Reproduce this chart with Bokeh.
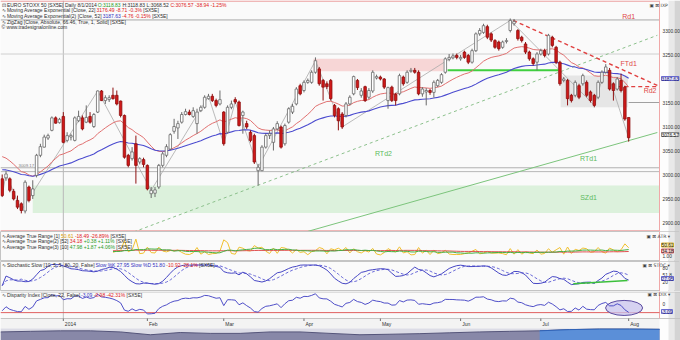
import numpy as np
from bokeh.plotting import figure
from bokeh.layouts import column
from bokeh.models import Range1d, Span, Label, BoxAnnotation, ColumnDataSource
from bokeh.embed import file_html
from bokeh.resources import INLINE
from bokeh.core.properties import value

# ---------------- data ----------------
opens = [2991, 2993, 2991, 2965, 2946, 2939, 2924, 2974, 2956, 2998,
         3040, 3057, 3076, 3092, 3118, 3108, 3121, 3071, 3078, 3071,
         3112, 3118, 3109, 3121, 3100, 3130, 3174, 3154, 3156, 3165,
         3165, 3153, 3123, 3040, 3033, 3064, 3026, 3031, 3019, 2960,
         2961, 2974, 3019, 3040, 3053, 3090, 3097, 3109, 3125, 3130,
         3121, 3106, 3133, 3140, 3158, 3163, 3154, 3147, 3130, 3088,
         3140, 3156, 3151, 3123, 3106, 3088, 3081, 3008, 3008, 3057,
         3081, 3067, 3095, 3099, 3064, 3109, 3130, 3147, 3185, 3175,
         3192, 3192, 3213, 3220, 3196, 3189, 3196, 3144, 3137, 3126,
         3123, 3147, 3168, 3196, 3165, 3183, 3161, 3174, 3201, 3203,
         3199, 3154, 3182, 3167, 3168, 3203, 3192, 3215, 3217, 3213,
         3168, 3172, 3175, 3171, 3185, 3192, 3213, 3240, 3243, 3248,
         3241, 3255, 3248, 3234, 3258, 3293, 3296, 3308, 3293, 3279,
         3276, 3265, 3277, 3300, 3314, 3300, 3286, 3272, 3255, 3241,
         3234, 3251, 3258, 3251, 3286, 3265, 3234, 3196, 3196, 3165,
         3165, 3185, 3189, 3192, 3172, 3165, 3161, 3192, 3213, 3217,
         3189, 3178, 3196, 3182, 3118.8]
highs = [3000, 3007, 2994, 2970, 2956, 2942, 2988, 2977, 2988, 3043,
         3064, 3083, 3085, 3121, 3121, 3118, 3130, 3088, 3085, 3121,
         3133, 3123, 3144, 3130, 3128, 3175, 3176, 3165, 3165, 3181,
         3175, 3154, 3125, 3043, 3057, 3081, 3036, 3035, 3021, 2974,
         2974, 3022, 3047, 3063, 3086, 3116, 3112, 3130, 3137, 3135,
         3140, 3137, 3144, 3165, 3168, 3168, 3158, 3175, 3132, 3144,
         3154, 3161, 3154, 3133, 3112, 3092, 3085, 3022, 3061, 3085,
         3092, 3099, 3111, 3102, 3106, 3140, 3147, 3182, 3189, 3196,
         3200, 3217, 3244, 3224, 3199, 3194, 3199, 3147, 3140, 3130,
         3151, 3165, 3206, 3199, 3180, 3185, 3180, 3217, 3208, 3206,
         3201, 3183, 3185, 3170, 3210, 3206, 3217, 3222, 3222, 3217,
         3182, 3180, 3178, 3196, 3199, 3211, 3244, 3251, 3252, 3252,
         3249, 3258, 3251, 3262, 3296, 3305, 3314, 3312, 3296, 3282,
         3279, 3279, 3284, 3325, 3324, 3303, 3289, 3276, 3258, 3244,
         3255, 3262, 3262, 3293, 3289, 3268, 3237, 3203, 3199, 3168,
         3196, 3189, 3210, 3196, 3175, 3168, 3196, 3217, 3230, 3222,
         3192, 3203, 3210, 3185, 3118.8]
lows = [2953, 2987, 2963, 2946, 2928, 2919, 2919, 2942, 2949, 2994,
        3036, 3056, 3072, 3090, 3106, 3106, 3065, 3067, 3071, 3069,
        3109, 3092, 3107, 3106, 3097, 3128, 3153, 3147, 3151, 3156,
        3144, 3119, 3033, 3015, 3029, 2981, 3021, 3015, 2967, 2951,
        2953, 2970, 3015, 3036, 3051, 3085, 3074, 3106, 3123, 3123,
        3118, 3085, 3130, 3137, 3156, 3151, 3140, 3144, 3060, 3085,
        3136, 3147, 3100, 3085, 3095, 3067, 3022, 2977, 3007, 3054,
        3074, 3050, 3092, 3054, 3060, 3106, 3126, 3144, 3165, 3171,
        3189, 3189, 3210, 3185, 3154, 3178, 3154, 3119, 3092, 3095,
        3119, 3144, 3165, 3176, 3160, 3151, 3157, 3170, 3198, 3196,
        3178, 3137, 3151, 3144, 3165, 3185, 3189, 3212, 3210, 3165,
        3162, 3144, 3166, 3160, 3182, 3189, 3210, 3236, 3240, 3240,
        3237, 3241, 3230, 3231, 3255, 3289, 3293, 3282, 3276, 3262,
        3258, 3262, 3273, 3296, 3310, 3279, 3275, 3251, 3237, 3227,
        3217, 3248, 3244, 3248, 3265, 3230, 3185, 3192, 3144, 3150,
        3161, 3157, 3185, 3161, 3150, 3140, 3157, 3189, 3210, 3175,
        3154, 3175, 3171, 3112, 3068.5]
closes = [2956, 3001, 2967, 2949, 2932, 2925, 2984, 2946, 2970, 3040,
          3058, 3078, 3081, 3118, 3107, 3115, 3067, 3081, 3081, 3118,
          3121, 3095, 3119, 3109, 3125, 3174, 3154, 3160, 3160, 3158,
          3147, 3123, 3036, 3019, 3047, 3019, 3033, 3021, 2970, 2967,
          2968, 3019, 3043, 3058, 3083, 3100, 3106, 3125, 3131, 3125,
          3133, 3130, 3140, 3161, 3163, 3154, 3144, 3156, 3064, 3140,
          3147, 3151, 3102, 3130, 3099, 3071, 3026, 3015, 3057, 3081,
          3085, 3095, 3106, 3057, 3102, 3137, 3142, 3178, 3168, 3192,
          3196, 3213, 3237, 3189, 3182, 3183, 3158, 3123, 3112, 3099,
          3147, 3161, 3204, 3181, 3174, 3154, 3175, 3213, 3204, 3199,
          3182, 3181, 3154, 3154, 3206, 3189, 3213, 3217, 3213, 3168,
          3178, 3175, 3171, 3192, 3196, 3208, 3241, 3244, 3247, 3244,
          3244, 3244, 3234, 3258, 3293, 3300, 3310, 3286, 3280, 3265,
          3262, 3276, 3279, 3321, 3319, 3283, 3279, 3255, 3241, 3231,
          3251, 3258, 3248, 3290, 3269, 3234, 3189, 3199, 3158, 3154,
          3192, 3161, 3206, 3165, 3154, 3144, 3192, 3213, 3224, 3178,
          3175, 3199, 3175, 3115.5, 3076.6]

month_index = [16, 38, 58, 79, 99, 120, 141, 164]
month_labels = ["2014", "Feb", "Mar", "Apr", "May", "Jun", "Jul", "Aug"]
price_ticks = [2900, 2950, 3000, 3050, 3100, 3150, 3250, 3300]
ema_fast_len, ema_fast_start = 22, 3045.0
ema_slow_len, ema_slow_start = 52, 3012.0
zigzag_threshold = 66.46
overview_level = [10, 10.7, 11.3, 11.3, 10, 6.7, 9.3, 8.3, 8.3, 10, 10, 8.3,
                  6.7, 7.3, 8, 9, 10, 10.7, 11.3, 12.7, 13.3, 13.3, 13]

# ---------------- indicators ----------------
o = np.array(opens, float); h = np.array(highs, float)
l = np.array(lows, float); c = np.array(closes, float)
N = len(c); idx = np.arange(N)

def ema(vals, n, start):
    a = 2.0 / (n + 1); e = start; out = np.empty(len(vals))
    for i, v in enumerate(vals):
        e += a * (v - e); out[i] = e
    return out

def sma(vals, n):
    vals = np.asarray(vals, float)
    return np.array([vals[max(0, i - n + 1):i + 1].mean() for i in range(len(vals))])

def sma_seeded(vals, n, start):
    out = np.empty(len(vals))
    for i in range(len(vals)):
        w = vals[max(0, i - n + 1):i + 1]
        out[i] = (w.sum() + (n - len(w)) * start) / n
    return out

ema22 = ema(c, ema_fast_len, ema_fast_start)
ema52 = ema(c, ema_slow_len, ema_slow_start)
prev_c = np.concatenate([[o[0]], c[:-1]])
tr = np.maximum(h - l, np.maximum(np.abs(h - prev_c), np.abs(l - prev_c)))
atr10 = sma(tr, 10); atr52 = sma(tr, 52)
fastk = []
for i in range(N):
    lo = l[max(0, i - 9):i + 1].min(); hi = h[max(0, i - 9):i + 1].max()
    fastk.append((c[i] - lo) / (hi - lo) * 100)
slowk = sma(fastk, 5); slowd = sma(slowk, 5)
ma22 = sma_seeded(c, 22, ema_fast_start)
disp = (c - ma22) / ma22 * 100

def zigzag(vals, th):
    piv = []; trend = 0; hi = lo = 0; ext = 0
    for i in range(1, len(vals)):
        v = vals[i]
        if trend == 0:
            if v > vals[hi]: hi = i
            if v < vals[lo]: lo = i
            if vals[hi] - vals[lo] >= th:
                if hi > lo: piv.append(lo); trend = 1; ext = hi
                else: piv.append(hi); trend = -1; ext = lo
        elif trend == 1:
            if v >= vals[ext]: ext = i
            elif vals[ext] - v >= th: piv.append(ext); trend = -1; ext = i
        else:
            if v <= vals[ext]: ext = i
            elif v - vals[ext] >= th: piv.append(ext); trend = 1; ext = i
    piv.append(ext)
    if piv[0] != 0: piv.insert(0, 0)
    if piv[-1] != len(vals) - 1: piv.append(len(vals) - 1)
    return piv

zz = zigzag(c, zigzag_threshold)

# ---------------- geometry ----------------
PAGE_W = 680
PX = 3.82                  # pixels per bar
FW = PAGE_W - 21           # width of the chart area (axis column to its right)
X0 = -1.7 / PX
X1 = X0 + FW / PX          # chart / axis-column boundary
XE = X0 + PAGE_W / PX      # right edge of the page
xr = Range1d(X0, XE)

def mx(px):
    return X0 + px / PX

def rx(px_from_right):
    return XE - px_from_right / PX

FONT = "Liberation Sans"
DARK = "#303030"; GREEN = "#1f9a1f"; RED = "#e02020"; BLUE = "#3030c0"; ORANGE = "#d89a00"

def ubox(fig, **kw):
    fig.add_layout(BoxAnnotation(level="underlay", line_color=None, **kw))

def base_fig(hgt, yr, outline="#c4c4c4"):
    p = figure(width=PAGE_W, height=hgt, x_range=xr, y_range=yr, toolbar_location=None,
               output_backend="svg", x_axis_location=None, y_axis_location=None,
               min_border_left=0, min_border_right=0, min_border_top=0, min_border_bottom=0,
               background_fill_color="#fafafa", border_fill_color="#f1f1f1",
               outline_line_color=outline, title=None)
    p.xgrid.visible = False
    p.ygrid.visible = False
    ubox(p, left=X1, right=rx(12), fill_color="#fdfdfd", fill_alpha=1)
    ubox(p, left=rx(12), right=rx(6), fill_color="#e9e9e9", fill_alpha=1)
    ubox(p, left=rx(6), right=XE, fill_color="#d4d4d4", fill_alpha=1)
    return p

def axis_labels(fig, ticks, texts):
    fig.text(x=[X1 + 3 / PX] * len(ticks), y=ticks, text=texts, text_font=value(FONT),
             text_font_size=value("4.8px"), text_color="#333333", text_align="left",
             text_baseline="middle")

_W = {}
for ch in "0123456789": _W[ch] = 0.556
for ch in " .,:;[]/ftI": _W[ch] = 0.278
for ch in "ijl": _W[ch] = 0.222
for ch in "()-r": _W[ch] = 0.333
for ch in "ckvxyzsJ": _W[ch] = 0.5
for ch in "abdeghnopqu": _W[ch] = 0.556
_W.update({"m": 0.833, "w": 0.722, "%": 0.889, "+": 0.584, "M": 0.833, "W": 0.944,
           "C": 0.722, "D": 0.722, "H": 0.722, "N": 0.722, "R": 0.722, "U": 0.722,
           "O": 0.778, "G": 0.778, "Q": 0.778, "T": 0.611, "F": 0.611, "Z": 0.611, "L": 0.556})

def tw(s, size):
    return sum(_W.get(ch, 0.667) for ch in s) * size

def row(fig, segs, px0, ydata, size=5.0):
    x = px0
    for s, col in segs:
        fig.add_layout(Label(x=mx(x), y=ydata, text=s, text_color=col, text_font=FONT,
                             text_font_size=f"{size}px", text_baseline="middle", text_align="left"))
        x += tw(s, size)

def side_box(fig, ydata, text, fill, border, tcol="#202020"):
    fig.add_layout(Label(x=X1 + 2 / PX, y=ydata, text=text, text_font=FONT,
                         text_font_size="4.8px", text_baseline="middle", text_color=tcol,
                         background_fill_color=fill, border_line_color=border,
                         border_line_width=0.8))

def side_name(fig, ydata, text, back=13):
    fig.add_layout(Label(x=X1 - back / PX, y=ydata, text=text, text_font="DejaVu Sans",
                         text_font_size="4.6px", text_baseline="middle", text_color="#404040"))

def edge_line(fig):
    fig.line([X1, X1], [fig.y_range.start, fig.y_range.end], line_color="#f0a8a8", line_width=1)

# ---------------- main price panel ----------------
MAIN_H = 231; MAIN_TOP = 3362.5; MSC = 0.48
MAIN_BOT = MAIN_TOP - MAIN_H / MSC
def my(py):
    return MAIN_TOP - py / MSC

main = base_fig(MAIN_H, Range1d(MAIN_BOT, MAIN_TOP), outline=None)
axis_labels(main, price_ticks, [f"{t:.2f}" for t in price_ticks])

ubox(main, left=8, right=X1, bottom=2920, top=2977, fill_color="#d6efd6", fill_alpha=0.85)
ubox(main, left=81.5, right=115.5, bottom=3215, top=3241, fill_color="#f6c9c9", fill_alpha=0.75)
ubox(main, left=146.2, right=163.8, bottom=3140, top=3206, fill_color="#cfcfcf", fill_alpha=0.45)
for lvl, col in [(3322, "#a8a8a8"), (3251, "#cfcfcf"), (3014, "#b0b0b0"), (3006, "#b8b8b8")]:
    main.line([X0, X1], [lvl, lvl], line_color=col, line_width=1)
main.add_layout(Span(location=16, dimension="height", line_color="#b8b8b8", line_width=1,
                     level="underlay"))
main.line([164, X1], [3150, 3150], line_color="#a0a0a0", line_width=1)
main.line([X0, X1], [my(0.6), my(0.6)], line_color="#e88a8a", line_width=1)
main.line([X0, X1], [my(230.4), my(230.4)], line_color="#e88a8a", line_width=1)
edge_line(main)

main.line([33, 171.5], [2876, 3290], line_color="#8cc08c", line_width=1, line_dash="3 3")
main.line([78.9, 171.5], [2879, 3087.5], line_color="#7cc47c", line_width=1)
main.line([116.6, 145.6], [3217, 3217], line_color="#3fcf3f", line_width=2)
main.line([133.8, 171.5], [3321, 3185.6], line_color="#e04040", line_width=1.4, line_dash="4 3")
main.line([161, 171.5], [3183, 3183], line_color="#e04040", line_width=1.4, line_dash="4 3")

main.line(zz, c[zz], line_color="#a9a9a9", line_width=0.8)
main.line(idx, ema22, line_color="#e07070", line_width=1)
main.line(idx, ema52, line_color="#4b4bcf", line_width=1.1)

inc = c >= o
src = ColumnDataSource(dict(x=idx, h=h, l=l, top=np.maximum(o, c), bot=np.minimum(o, c),
                            fill=np.where(inc, "#ffffff", "#d01818"),
                            line=np.where(inc, "#6a6a6a", "#8e1010")))
main.segment(x0="x", y0="h", x1="x", y1="l", source=src, line_color="line", line_width=1)
main.vbar(x="x", width=0.66, top="top", bottom="bot", source=src,
          fill_color="fill", line_color="line", line_width=0.8)

for txt, xi, yv, col in [("Rd1", 164, 3329, "#e04848"), ("FTd1", 164, 3231, "#e04848"),
                         ("Rd2", 169.6, 3175, "#e04848"), ("RTd1", 153.5, 3033, "#5cba5c"),
                         ("SZd1", 153.5, 2952, "#5cba5c"), ("RTd2", 99.8, 3044, "#5cba5c")]:
    main.add_layout(Label(x=xi, y=yv, text=txt, text_color=col, text_font=FONT,
                          text_font_size="7px", text_align="center", text_baseline="middle"))
main.add_layout(Label(x=mx(18), y=my(165), text="3009.17", text_color="#808080",
                      text_font=FONT, text_font_size="4.3px", text_baseline="middle"))

row(main, [("\u22a1 EURO STOXX 50 [SX5E] Daily 8/1/2014 ", DARK), ("O:3118.83 ", GREEN),
           ("H:3118.83 L:3068.52 ", DARK), ("C:3076.57 -38.94 -1.25%", RED)], 1, my(4))
row(main, [("\u223f Moving Average Exponential [Close, 22] ", DARK),
           ("3176.49 -8.71 -0.3% ", RED), ("[SX5E]", DARK)], 1, my(9.7))
row(main, [("\u223f Moving Average Exponential(2) [Close, 52] ", DARK), ("3187.63 ", BLUE),
           ("-4.76 -0.15% ", RED), ("[SX5E]", DARK)], 1, my(15.4))
row(main, [("\u223f ZigZag [Close, Absolute, 66.46, True, 1, Solid] [SX5E]", DARK)], 1, my(21.1))
row(main, [("\u00a9 www.tradesignalonline.com", DARK)], 1, my(26.8))

side_box(main, my(78), "3187.63", "#dcdcf8", "#4a4ac8", "#202070")
side_box(main, my(134), "3076.57", "#f4f4f4", "#707070")
side_name(main, my(4.5), "\u25a3 \u22a0 IXP", 10)

# ---------------- ATR panel ----------------
ATR_H = 30; ATR_TOP = 143.6; ASC = 0.175
def ay(rel):
    return ATR_TOP - rel / ASC
atr = base_fig(ATR_H, Range1d(ATR_TOP - ATR_H / ASC, ATR_TOP))
axis_labels(atr, [1], ["1.00"])
atr.add_layout(Span(location=16, dimension="height", line_color="#c0c0c0", line_width=1,
                    level="underlay"))
edge_line(atr)
s0 = 29
atr.line(idx[s0:], tr[s0:], line_color="#f0c030", line_width=1)
atr.line(idx[s0:], atr52[s0:], line_color="#e05050", line_width=1)
atr.line(idx[s0:], atr10[s0:], line_color="#45b045", line_width=1)
row(atr, [("\u223f Average True Range [1] ", DARK), ("50.61 ", ORANGE),
          ("-18.49 -26.89% ", RED), ("[SX5E]", DARK)], 1, ay(4))
row(atr, [("\u223f Average True Range(2) [52] ", DARK), ("34.18 ", RED),
          ("+0.38 +1.11% ", GREEN), ("[SX5E]", DARK)], 1, ay(9.7))
row(atr, [("\u223f Average True Range(3) [10] ", DARK), ("47.98 ", GREEN),
          ("+1.87 +4.06% ", GREEN), ("[SX5E]", DARK)], 1, ay(15.4))
side_box(atr, ay(13.5), "50.61", "#f8e9a8", "#d0a000")
side_box(atr, ay(19.5), "34.18", "#f8d4d4", "#d04040")
side_name(atr, ay(4.5), "\u25a3 \u22a0 ATR \u25be")

# ---------------- Stochastic panel ----------------
ST_H = 30; ST_TOP = 110.0; SSC = 0.2333
def sy(rel):
    return ST_TOP - rel / SSC
sto = base_fig(ST_H, Range1d(ST_TOP - ST_H / SSC, ST_TOP))
axis_labels(sto, [80, 51.8, 20], ["80", "51.8", "20"])
sto.add_layout(Span(location=16, dimension="height", line_color="#c0c0c0", line_width=1,
                    level="underlay"))
edge_line(sto)
sto.line(idx, slowd, line_color="#6a6ad8", line_width=1, line_dash="3 2")
sto.line(idx, slowk, line_color="#4646c4", line_width=1)
sto.line([149.5, 163.7], [14.4, 28.6], line_color="#3cc03c", line_width=1.5)
row(sto, [("\u223f Stochastic Slow [10, 5, 5, 80, 20, False] ", DARK), ("Slow %K 27.95 ", BLUE),
          ("Slow %D 51.80 ", BLUE), ("-10.92 -28.1% ", RED), ("[SX5E]", DARK)], 1, sy(3.5))
side_box(sto, sy(17), "27.95", "#dcdcf8", "#4a4ac8", "#202070")
side_name(sto, sy(3.5), "\u25a3 \u22a0 STOC \u25be", 17)

# ---------------- Disparity panel + date strip + overview (one figure) ----------------
DI_H = 27; DI_TOP = 4.62; DSC = 2.6
BOT_H = 49
def dy(rel):
    return DI_TOP - rel / DSC
DI_BOT = DI_TOP - DI_H / DSC
FIG_BOT = DI_TOP - BOT_H / DSC
dis = base_fig(BOT_H, Range1d(FIG_BOT, DI_TOP), outline=None)
dis.line([X0, XE], [DI_BOT, DI_BOT], line_color="#c4c4c4", line_width=1)
dis.line([X0, XE], [DI_TOP - 0.2, DI_TOP - 0.2], line_color="#c4c4c4", line_width=1)
axis_labels(dis, [0], ["0"])
dis.segment(x0=[16], y0=[DI_BOT], x1=[16], y1=[DI_TOP], line_color="#c0c0c0", line_width=1)
dis.line([X1, X1], [DI_BOT, DI_TOP], line_color="#f0a8a8", line_width=1)
dis.line([X0, X1], [-3.5, -3.5], line_color="#e06060", line_width=1)
dis.ellipse(x=[162.8], y=[-1.7], width=9.7, height=5.8, fill_color="#c9c4ee",
            fill_alpha=0.75, line_color="#5a4aa0", line_width=1)
dis.line(idx, disp, line_color="#4f4fc8", line_width=1)
row(dis, [("\u223f Disparity Index [Close, 22, False] ", DARK), ("-3.09 ", BLUE),
          ("-0.98 -42.31% ", RED), ("[SX5E]", DARK)], 1, dy(3))
side_box(dis, dy(20), "-3.09", "#dcdcf8", "#4a4ac8", "#202070")
side_name(dis, dy(3), "\u25a3 \u22a0 DIX \u25be", 12)

ubox(dis, left=X0, right=X1, bottom=dy(37), top=dy(27), fill_color="#f3f3f3", fill_alpha=1)
dis.segment(x0=month_index, y0=[dy(29.5)] * len(month_index), x1=month_index,
            y1=[dy(27)] * len(month_index), line_color="#707070", line_width=1)
dis.text(x=[m + 0.4 for m in month_index], y=[dy(32)] * len(month_index), text=month_labels,
         text_font=value(FONT), text_font_size=value("5px"), text_color="#333333",
         text_align="left", text_baseline="middle")

ubox(dis, left=X0, right=X1, bottom=FIG_BOT, top=dy(37), fill_color="#dcdce6", fill_alpha=1)
ov_n = len(overview_level)
ov_x = X0 + np.arange(ov_n) * (FW / PX) / (ov_n - 1)
ov_y = FIG_BOT + np.array(overview_level) * (12.0 / 14.0) / DSC
ov_base = np.full(ov_n, FIG_BOT)
dis.varea(x=ov_x, y1=ov_base, y2=ov_y, fill_color="#8888a8")
dis.line(ov_x, ov_y, line_color="#55557a", line_width=1)
b0 = 18
dis.varea(x=ov_x[b0:], y1=ov_base[b0:], y2=ov_y[b0:], fill_color="#5b8fd8")
dis.line(ov_x[b0:], ov_y[b0:], line_color="#2f63b8", line_width=1)

layout = column(main, atr, sto, dis, spacing=0)
open("out.html", "w").write(file_html(layout, INLINE))
